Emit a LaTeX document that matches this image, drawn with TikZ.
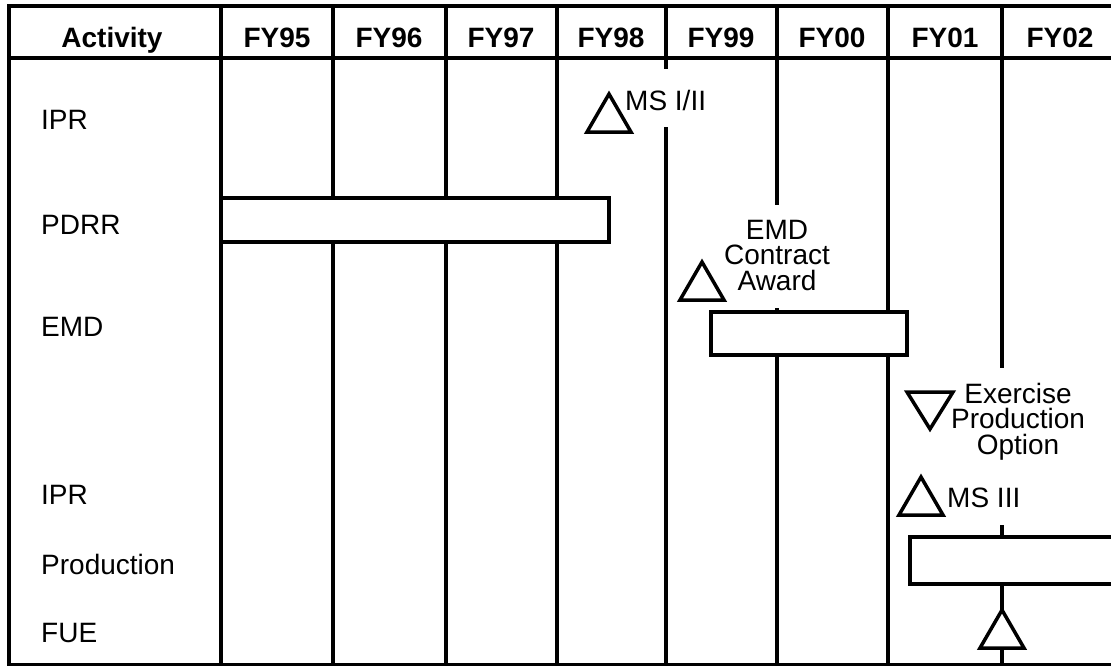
\documentclass[tikz,border=0pt]{standalone}
\usepackage{fontspec}
\setmainfont{Liberation Sans}
\usetikzlibrary{positioning}
\newcommand{\chartfont}{\fontsize{28}{25.5}\selectfont}
\newcommand{\uptri}[1]{\draw[tri] (#1) -- ++(-22,38) -- ++(44,0) -- cycle;}

\begin{document}
\begin{tikzpicture}[x=1pt, y=-1pt,
  font=\chartfont,
  grid/.style={line width=3.5pt},
  bar/.style={draw, fill=white, line width=3.5pt},
  tri/.style={draw, fill=white, line width=3.5pt},
  head/.style={font=\chartfont\bfseries, anchor=base, inner sep=0pt},
  row/.style={anchor=base west, inner sep=0pt},
  lbl/.style={inner sep=0pt, align=center}]
  \clip (0,0) rectangle (1111,665);
  % frame and header rule
  \draw[grid] (9,667) -- (9,6) -- (1120,6);
  \draw[grid] (9,58) -- (1120,58);
  \draw[grid] (9,665) -- (1120,665);
  % year columns
  \foreach \x in {221,333,446,557,888} \draw[grid] (\x,6) -- (\x,667);
  \draw[grid] (666,6) -- (666,69) (666,127) -- (666,667);
  \draw[grid] (777,6) -- (777,205) (777,308) -- (777,667);
  \draw[grid] (1002,6) -- (1002,368) (1002,525) -- (1002,667);

  \node[head] (act) at (112,47) {Activity};
  \foreach \x/\yr in {277/95,389/96,501/97,611/98,721/99,832/00,945/01,1060/02}
    \node[head] (fy\yr) at (\x,47) {FY\yr};

  \node[row] (ipr1) at (41,129) {IPR};
  \node[row] (pdrr) at (41,234) {PDRR};
  \node[row] (emd) at (41,336) {EMD};
  \node[row] (ipr2) at (41,504) {IPR};
  \node[row] (prod) at (41,574) {Production};
  \node[row] (fue) at (41,642) {FUE};

  % bars
  \draw[bar] (221,198) rectangle (609,242);
  \draw[bar] (711,312) rectangle (907,355);
  \draw[bar] (910,537) rectangle (1125,584);

  % milestones
  \uptri{609,94}
  \node[lbl, anchor=base west] (ms12) at (625,110) {MS I/II};
  \uptri{702,262}
  \node[lbl, anchor=base] (award) at (777,290) {EMD\\Contract\\Award};
  \draw[tri] (907,392) -- ++(46,0) -- ++(-23,37) -- cycle;
  \node[lbl, anchor=base] (option) at (1018,454) {Exercise\\Production\\Option};
  \uptri{921,477}
  \node[lbl, anchor=base west] (ms3) at (947,507) {MS III};
  \uptri{1002,610}
\end{tikzpicture}
\end{document}
